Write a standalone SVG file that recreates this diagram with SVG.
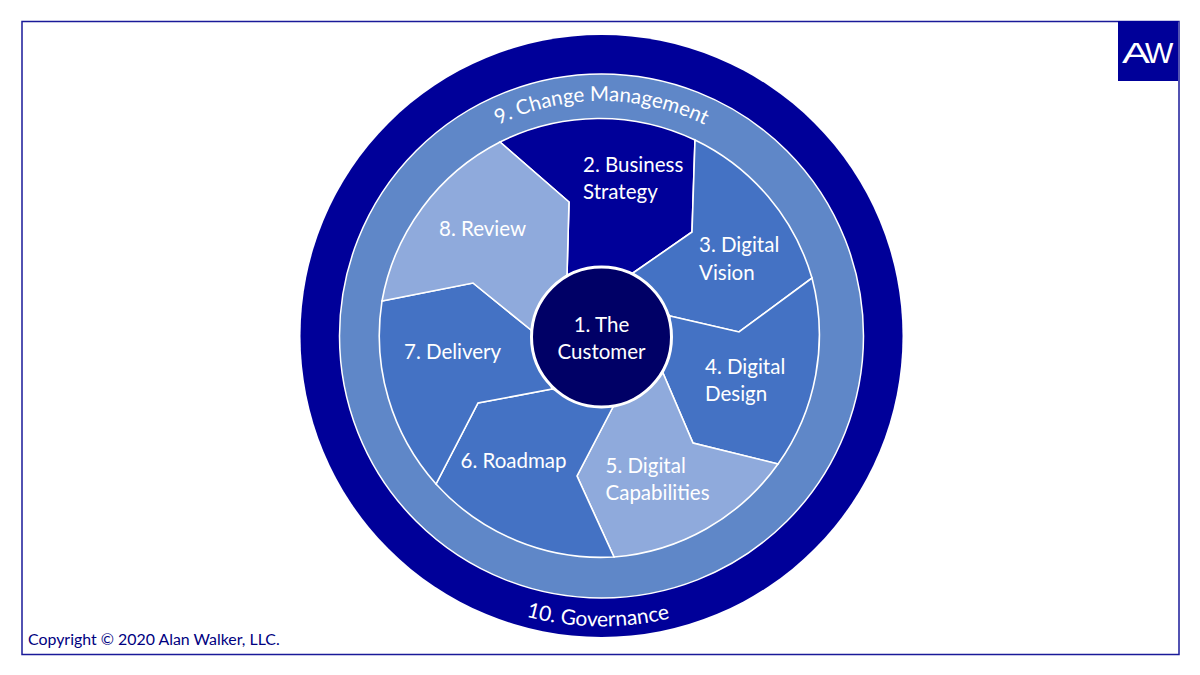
<svg xmlns="http://www.w3.org/2000/svg" width="1200" height="675" viewBox="0 0 1200 675">
<style>
text{font-family:Lato,Carlito,"Open Sans",sans-serif;fill:#fff;font-size:20.500px}
.seg{stroke:#fff;stroke-width:1.600;stroke-linejoin:miter}
.mid{fill:#4472C4}.light{fill:#8FAADC}
</style>
<defs>
<path id="arcTop" d="M 366.500 336 A 235 235 0 0 1 836.500 336"/>
<path id="arcBot" d="M 311 336 A 290.500 290.500 0 0 0 892 336"/>
</defs>
<rect id="frame" x="22" y="21.500" width="1157" height="633" fill="#fff" stroke="#1A1A99" stroke-width="1.500"/>
<g id="logo"><rect x="1118" y="21" width="60" height="60" fill="#000099"/><text y="63" style="font-family:'Liberation Sans',sans-serif;font-size:30px"><tspan x="1122" textLength="28" lengthAdjust="spacingAndGlyphs">A</tspan><tspan x="1145">W</tspan></text></g>
<g id="governance"><circle cx="601.500" cy="336" r="301" fill="#000099"/><text style="font-size:21px"><textPath href="#arcBot" startOffset="49.600%" text-anchor="middle">10. Governance</textPath></text></g>
<g id="change-management"><circle cx="601.500" cy="336" r="262" fill="#5F87C8" stroke="#fff" stroke-width="1.500"/><text style="font-size:20.500px"><textPath href="#arcTop" startOffset="50%" text-anchor="middle">9. Change Management</textPath></text></g>
<g id="business-strategy"><path class="seg" fill="#000099" d="M500 142 L569 202 L567 275 L633 273 L692 232 L695 140 A222.500 222.500 0 0 0 500 142Z"/><text x="583" y="171.500">2. Business</text><text x="583" y="198.500">Strategy</text></g>
<g id="digital-vision"><path class="seg mid" d="M633 273 L692 232 L695 140 A222.500 222.500 0 0 1 812 278 L739 332 L670 316Z"/><text x="699" y="251.500">3. Digital</text><text x="699" y="279.500">Vision</text></g>
<g id="digital-design"><path class="seg mid" d="M670 316 L739 332 L812 278 A222.500 222.500 0 0 1 778 464 L693 443 L663 373Z"/><text x="705" y="373.500">4. Digital</text><text x="705" y="400.500">Design</text></g>
<g id="digital-capabilities"><path class="seg light" d="M663 373 L693 443 L778 464 A222.500 222.500 0 0 1 614 557 L577 476 L613 407Z"/><text x="605.500" y="472.500">5. Digital</text><text x="605.500" y="499.500">Capabilities</text></g>
<g id="roadmap"><path class="seg mid" d="M613 407 L577 476 L614 557 A222.500 222.500 0 0 1 436 484 L478 403 L552 389Z"/><text x="460.500" y="467.500">6. Roadmap</text></g>
<g id="delivery"><path class="seg mid" d="M552 389 L478 403 L436 484 A222.500 222.500 0 0 1 382 301 L473 283 L531 330Z"/><text x="404" y="358.500">7. Delivery</text></g>
<g id="review"><path class="seg light" d="M531 330 L473 283 L382 301 A222.500 222.500 0 0 1 500 142 L569 202 L567 275Z"/><text x="439" y="235.500">8. Review</text></g>
<g id="customer"><circle cx="601.500" cy="337" r="70" fill="#000066" stroke="#fff" stroke-width="3"/><text x="601.500" y="331.500" text-anchor="middle">1. The</text><text x="601.500" y="358.500" text-anchor="middle">Customer</text></g>
<text id="copyright" x="28" y="645" style="fill:#000080;font-size:15.900px">Copyright © 2020 Alan Walker, LLC.</text>
</svg>
